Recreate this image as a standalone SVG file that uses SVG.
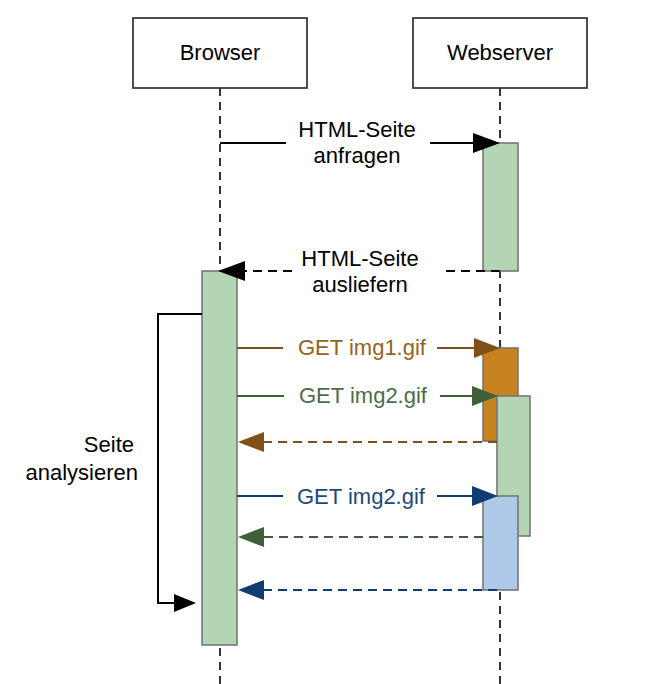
<svg xmlns="http://www.w3.org/2000/svg" width="667" height="684" viewBox="0 0 667 684">
<style>
text{font-family:"Liberation Sans",Arial,sans-serif;font-size:22px;text-anchor:middle}
.box{fill:#fff;stroke:#222;stroke-width:1.6}
.life{stroke:#333;stroke-width:2;stroke-dasharray:8 6;fill:none}
.act{stroke:#777;stroke-width:1.6}
.g{fill:#B4D5B4}
.o{fill:#C5821F}
.b{fill:#AFC9E8}
.msg{fill:none;stroke-width:2}
.dash{stroke-dasharray:9 6}
</style>
<defs>
<marker id="ak" markerUnits="userSpaceOnUse" markerWidth="27" markerHeight="20" refX="17" refY="10" orient="auto"><path d="M0,0 L27,10 L0,20 z" fill="#000"/></marker>
<marker id="ak2" markerUnits="userSpaceOnUse" markerWidth="22" markerHeight="18" refX="14" refY="9" orient="auto"><path d="M0,0 L22,9 L0,18 z" fill="#000"/></marker>
<marker id="abr" markerUnits="userSpaceOnUse" markerWidth="26" markerHeight="20" refX="16" refY="10" orient="auto"><path d="M0,0 L26,10 L0,20 z" fill="#7F5116"/></marker>
<marker id="agr" markerUnits="userSpaceOnUse" markerWidth="26" markerHeight="20" refX="16" refY="10" orient="auto"><path d="M0,0 L26,10 L0,20 z" fill="#3F5F38"/></marker>
<marker id="abl" markerUnits="userSpaceOnUse" markerWidth="26" markerHeight="20" refX="16" refY="10" orient="auto"><path d="M0,0 L26,10 L0,20 z" fill="#0F3D72"/></marker>
</defs>
<rect width="667" height="684" fill="#fff"/>
<g id="browser">
<rect class="box" x="133" y="18" width="174" height="70"/>
<text x="220" y="60">Browser</text>
<line class="life" x1="220" y1="88" x2="220" y2="684"/>
</g>
<g id="webserver">
<rect class="box" x="413" y="18" width="174" height="70"/>
<text x="500" y="60">Webserver</text>
<line class="life" x1="500" y1="88" x2="500" y2="684"/>
</g>
<g id="activations">
<rect class="act g" x="483" y="143" width="35" height="128"/>
<rect class="act g" x="202" y="271" width="35" height="374"/>
<rect class="act o" x="483" y="348" width="35" height="93"/>
<rect class="act g" x="497" y="396" width="33" height="140"/>
<rect class="act b" x="483" y="496" width="35" height="94"/>
</g>
<g id="connectors">
<path class="msg" stroke="#000" d="M220,143 H286 M430,143 H490" marker-end="url(#ak)"/>
<path class="msg dash" stroke="#000" d="M500,271 H440 M292,271 H228" marker-end="url(#ak)"/>
<path class="msg" stroke="#000" d="M202,314 H158 V603 H188" marker-end="url(#ak2)"/>
<path class="msg" stroke="#7F5116" d="M237,348 H283 M437,348 H490" marker-end="url(#abr)"/>
<path class="msg" stroke="#3F5F38" d="M237,396 H284 M440,396 H488" marker-end="url(#agr)"/>
<path class="msg dash" stroke="#7F5116" d="M497,442 H248" marker-end="url(#abr)"/>
<path class="msg" stroke="#0F3D72" d="M237,496 H283 M437,496 H488" marker-end="url(#abl)"/>
<path class="msg dash" stroke="#3F5F38" d="M483,537 H248" marker-end="url(#agr)"/>
<path class="msg dash" stroke="#0F3D72" d="M497,590 H248" marker-end="url(#abl)"/>
</g>
<g id="labels">
<text x="357" y="137">HTML-Seite</text>
<text x="357" y="163">anfragen</text>
<text x="360" y="266">HTML-Seite</text>
<text x="360" y="292">ausliefern</text>
<text x="362" y="355" fill="#94631F">GET img1.gif</text>
<text x="363" y="403" fill="#4B6E47">GET img2.gif</text>
<text x="361" y="504" fill="#1D4A7A">GET img2.gif</text>
<text x="134" y="452" style="text-anchor:end">Seite</text>
<text x="138" y="480" style="text-anchor:end">analysieren</text>
</g>
</svg>
